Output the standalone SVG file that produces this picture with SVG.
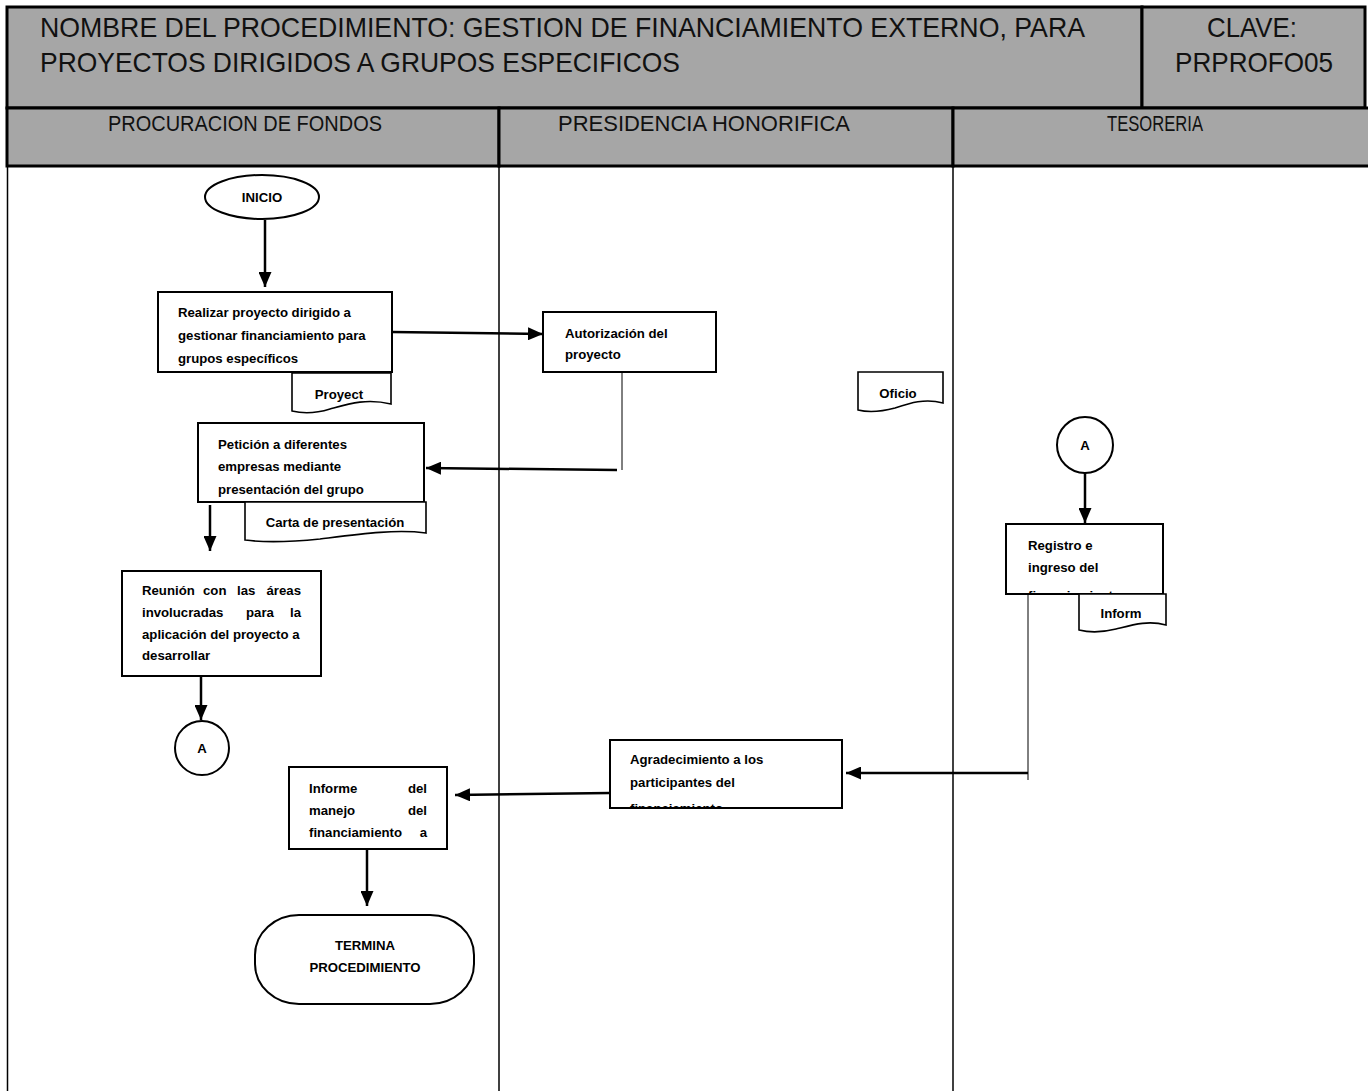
<svg xmlns="http://www.w3.org/2000/svg" width="1368" height="1091" viewBox="0 0 1368 1091">
  <style>
    .hdr { fill: #a6a6a6; stroke: #000; stroke-width: 3; }
    .htxt { font-family: "Liberation Sans", Arial, sans-serif; font-size: 28px; fill: #111; }
    .ltxt { font-family: "Liberation Sans", Arial, sans-serif; font-size: 22px; fill: #111; }
    .lane { stroke: #000; stroke-width: 1.5; fill: none; }
    .box { fill: #fff; stroke: #000; stroke-width: 2; }
    .doc { fill: #fff; stroke: #000; stroke-width: 1.6; }
    .t { font-family: "Liberation Sans", Arial, sans-serif; font-size: 13.2px; font-weight: bold; fill: #000; }
    .tc { text-anchor: middle; }
    .arrow { stroke: #000; stroke-width: 2.5; fill: none; marker-end: url(#ah); }
    .thin { stroke: #000; stroke-width: 1; fill: none; }
  </style>
  <defs>
    <marker id="ah" viewBox="0 0 15 13" refX="15" refY="6.5" markerWidth="15" markerHeight="13" markerUnits="userSpaceOnUse" orient="auto">
      <path d="M0,0 L15,6.5 L0,13 Z" fill="#000"/>
    </marker>
    <clipPath id="c-realizar"><rect x="158" y="292" width="234" height="80"/></clipPath>
    <clipPath id="c-peticion"><rect x="198" y="423" width="226" height="79"/></clipPath>
    <clipPath id="c-registro"><rect x="1006" y="524" width="157" height="69"/></clipPath>
    <clipPath id="c-agradec"><rect x="610" y="740" width="232" height="67"/></clipPath>
  </defs>

  <rect width="1368" height="1091" fill="#fff"/>

  <!-- header block -->
  <g id="header">
    <rect class="hdr" x="7" y="7" width="1135" height="101"/>
    <rect class="hdr" x="1142" y="7" width="223" height="101"/>
    <rect class="hdr" x="7" y="108" width="492" height="58"/>
    <rect class="hdr" x="499" y="108" width="454" height="58"/>
    <rect class="hdr" x="953" y="108" width="420" height="58"/>
    <text class="htxt" x="40" y="37" textLength="1045" lengthAdjust="spacingAndGlyphs">NOMBRE DEL PROCEDIMIENTO: GESTION DE FINANCIAMIENTO EXTERNO, PARA</text>
    <text class="htxt" x="40" y="72" textLength="640" lengthAdjust="spacingAndGlyphs">PROYECTOS DIRIGIDOS A GRUPOS ESPECIFICOS</text>
    <text class="htxt" x="1207" y="37" textLength="90" lengthAdjust="spacingAndGlyphs">CLAVE:</text>
    <text class="htxt" x="1175" y="72" textLength="158" lengthAdjust="spacingAndGlyphs">PRPROFO05</text>
    <text class="ltxt" x="108" y="131" textLength="274" lengthAdjust="spacingAndGlyphs">PROCURACION DE FONDOS</text>
    <text class="ltxt" x="558" y="131" textLength="292" lengthAdjust="spacingAndGlyphs">PRESIDENCIA HONORIFICA</text>
    <text class="ltxt" x="1107" y="131" textLength="96" lengthAdjust="spacingAndGlyphs">TESORERIA</text>
  </g>

  <!-- swimlane borders -->
  <g id="lanes">
    <line class="lane" x1="7.5" y1="166" x2="7.5" y2="1091"/>
    <line class="lane" x1="499" y1="166" x2="499" y2="1091"/>
    <line class="lane" x1="953" y1="166" x2="953" y2="1091"/>
  </g>

  <!-- connectors -->
  <g id="connectors">
    <line class="arrow" x1="265" y1="220" x2="265" y2="287"/>
    <line class="arrow" x1="392" y1="332" x2="543" y2="334"/>
    <polyline class="thin" points="622,372 622,470"/>
    <line class="arrow" x1="617" y1="470" x2="426" y2="468"/>
    <line class="arrow" x1="210" y1="505" x2="210" y2="551"/>
    <line class="arrow" x1="201" y1="676" x2="201" y2="720"/>
    <line class="arrow" x1="1085" y1="473" x2="1085" y2="523"/>
    <polyline class="thin" points="1028,594 1028,780"/>
    <line class="arrow" x1="1028" y1="773" x2="846" y2="773"/>
    <line class="arrow" x1="610" y1="793" x2="455" y2="795"/>
    <line class="arrow" x1="367" y1="849" x2="367" y2="906"/>
  </g>

  <!-- procuracion de fondos -->
  <g id="inicio">
    <ellipse class="box" cx="262" cy="197" rx="57" ry="22"/>
    <text class="t tc" x="262" y="202">INICIO</text>
  </g>

  <g id="realizar">
    <rect class="box" x="158" y="292" width="234" height="80"/>
    <g clip-path="url(#c-realizar)">
      <text class="t" x="178" y="317">Realizar proyecto dirigido a</text>
      <text class="t" x="178" y="340">gestionar financiamiento para</text>
      <text class="t" x="178" y="363">grupos específicos</text>
    </g>
  </g>

  <g id="doc-proyect">
    <path class="doc" d="M292,373 H391 V404 C366,398 348,404 330,409 C314,414 300,413 292,411 Z"/>
    <text class="t tc" x="339" y="399">Proyect</text>
  </g>

  <g id="peticion">
    <rect class="box" x="198" y="423" width="226" height="79"/>
    <g clip-path="url(#c-peticion)">
      <text class="t" x="218" y="449">Petición a diferentes</text>
      <text class="t" x="218" y="471">empresas mediante</text>
      <text class="t" x="218" y="494">presentación del grupo</text>
    </g>
  </g>

  <g id="doc-carta">
    <path class="doc" d="M245,502 H426 V533 C395,529 360,534 320,539 C290,542 260,542 245,540 Z"/>
    <text class="t tc" x="335" y="527">Carta de presentación</text>
  </g>

  <g id="reunion">
    <rect class="box" x="122" y="571" width="199" height="105"/>
    <text class="t" y="595"><tspan x="142">Reunión</tspan><tspan x="203">con</tspan><tspan x="237">las</tspan><tspan x="301" text-anchor="end">áreas</tspan></text>
    <text class="t" y="617"><tspan x="142">involucradas</tspan><tspan x="246">para</tspan><tspan x="301" text-anchor="end">la</tspan></text>
    <text class="t" x="142" y="639">aplicación del proyecto a</text>
    <text class="t" x="142" y="660">desarrollar</text>
  </g>

  <g id="conector-a1">
    <circle class="box" cx="202" cy="748" r="27"/>
    <text class="t tc" x="202" y="753">A</text>
  </g>

  <g id="informe">
    <rect class="box" x="289" y="767" width="158" height="82"/>
    <text class="t" y="793"><tspan x="309">Informe</tspan><tspan x="427" text-anchor="end">del</tspan></text>
    <text class="t" y="815"><tspan x="309">manejo</tspan><tspan x="427" text-anchor="end">del</tspan></text>
    <text class="t" y="837"><tspan x="309">financiamiento</tspan><tspan x="427" text-anchor="end">a</tspan></text>
  </g>

  <g id="termina">
    <rect class="box" x="255" y="915" width="219" height="89" rx="44" ry="40"/>
    <text class="t tc" x="365" y="950">TERMINA</text>
    <text class="t tc" x="365" y="972">PROCEDIMIENTO</text>
  </g>

  <!-- presidencia honorifica -->
  <g id="autorizacion">
    <rect class="box" x="543" y="312" width="173" height="60"/>
    <text class="t" x="565" y="338">Autorización del</text>
    <text class="t" x="565" y="359">proyecto</text>
  </g>

  <g id="doc-oficio">
    <path class="doc" d="M858,372 H943 V403 C925,398 910,403 895,408 C880,412 866,412 858,410 Z"/>
    <text class="t tc" x="898" y="398">Oficio</text>
  </g>

  <g id="agradecimiento">
    <rect class="box" x="610" y="740" width="232" height="68"/>
    <g clip-path="url(#c-agradec)">
      <text class="t" x="630" y="764">Agradecimiento a los</text>
      <text class="t" x="630" y="787">participantes del</text>
      <text class="t" x="630" y="813">financiamiento</text>
    </g>
  </g>

  <!-- tesoreria -->
  <g id="conector-a2">
    <circle class="box" cx="1085" cy="445" r="28"/>
    <text class="t tc" x="1085" y="450">A</text>
  </g>

  <g id="registro">
    <rect class="box" x="1006" y="524" width="157" height="70"/>
    <g clip-path="url(#c-registro)">
      <text class="t" x="1028" y="550">Registro e</text>
      <text class="t" x="1028" y="572">ingreso del</text>
      <text class="t" x="1028" y="600">financiamiento</text>
    </g>
  </g>

  <g id="doc-inform">
    <path class="doc" d="M1079,594 H1166 V625 C1148,620 1132,625 1116,629 C1100,633 1087,632 1079,630 Z"/>
    <text class="t tc" x="1121" y="618">Inform</text>
  </g>
</svg>
